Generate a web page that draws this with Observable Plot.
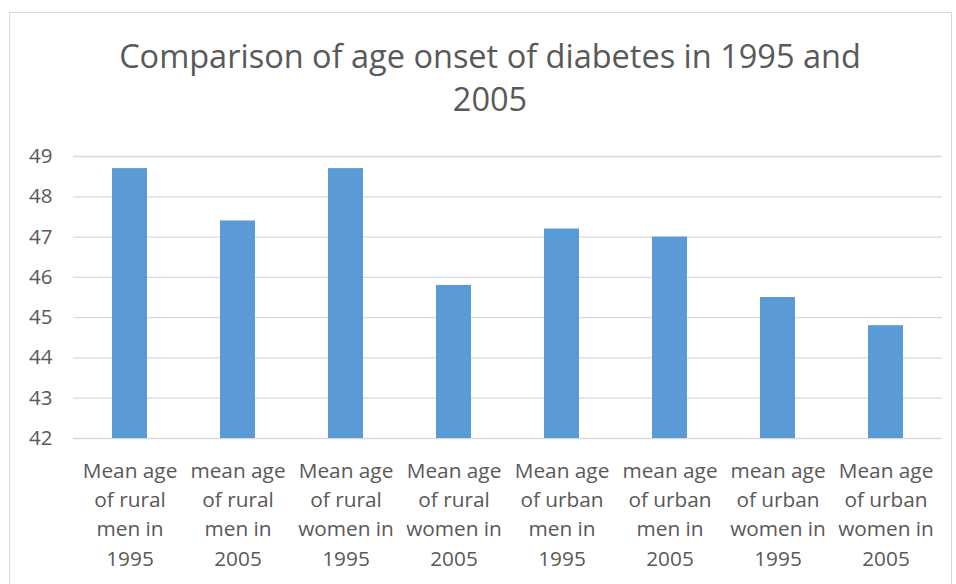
<!DOCTYPE html>
<html>
<head>
<meta charset="utf-8">
<script src="https://cdn.jsdelivr.net/npm/d3@7"></script>
<script src="https://cdn.jsdelivr.net/npm/@observablehq/plot@0.6"></script>
<style>
  html, body { margin: 0; padding: 0; background: #ffffff; }
  body { width: 956px; height: 584px; position: relative; overflow: hidden; font-family: "Open Sans", sans-serif; }
  #frame { position: absolute; left: 9px; top: 12px; width: 943px; height: 600px; border: 1px solid #d9d9d9; box-sizing: border-box; }
  #title { position: absolute; left: 0; top: 0; width: 956px; text-align: center; color: #595959; font-size: 32.5px; line-height: 43px; padding-top: 34px; }
  #title div { margin-left: 24px; }
  #chart { position: absolute; left: 0; top: 130px; }
</style>
</head>
<body>
<div id="frame"></div>
<div id="title"></div>
<div id="chart"></div>
<script>
// Chart title, broken over two lines
const titleLines = ["Comparison of age onset of diabetes in 1995 and", "2005"];

// Categories (one bar each) with their multi-line axis labels
const categories = [
  "Mean age\nof rural\nmen in\n1995",
  "mean age\nof rural\nmen in\n2005",
  "Mean age\nof rural\nwomen in\n1995",
  "Mean age\nof rural\nwomen in\n2005",
  "Mean age\nof urban\nmen in\n1995",
  "mean age\nof urban\nmen in\n2005",
  "mean age\nof urban\nwomen in\n1995",
  "Mean age\nof urban\nwomen in\n2005"
];

// Mean age at onset of diabetes (years)
const meanAges = [48.7, 47.4, 48.7, 45.8, 47.2, 47.0, 45.5, 44.8];

// Value axis ticks
const yTicks = [42, 43, 44, 45, 46, 47, 48, 49];

const rows = categories.map((c, i) => ({category: c, age: meanAges[i]}));

const titleEl = document.getElementById("title");
for (const line of titleLines) {
  const d = document.createElement("div");
  d.textContent = line;
  titleEl.appendChild(d);
}

const chart = Plot.plot({
  width: 956,
  height: 454,
  marginLeft: 73,
  marginRight: 14,
  marginTop: 26,
  marginBottom: 146,
  style: {fontFamily: "'Open Sans', sans-serif", fontSize: "20px", color: "#595959", background: "transparent", overflow: "visible"},
  x: {domain: categories, paddingInner: 0.68, paddingOuter: 0.34},
  y: {domain: [yTicks[0], yTicks[yTicks.length - 1]]},
  marks: [
    Plot.gridY(yTicks, {stroke: "#d9d9d9", strokeOpacity: 1, strokeWidth: 1.3}),
    Plot.barY(rows, {x: "category", y1: yTicks[0], y2: "age", fill: "#5b9bd5"}),
    Plot.axisY(yTicks, {tickSize: 0, tickPadding: 21, label: null, fill: "#595959", fontSize: 20.5}),
    Plot.axisX({tickSize: 0, tickPadding: 19, label: null, fill: "#595959", fontSize: 20.8, lineHeight: 1.4, textOverflow: null, lineWidth: Infinity})
  ]
});
document.getElementById("chart").appendChild(chart);
</script>
</body>
</html>
